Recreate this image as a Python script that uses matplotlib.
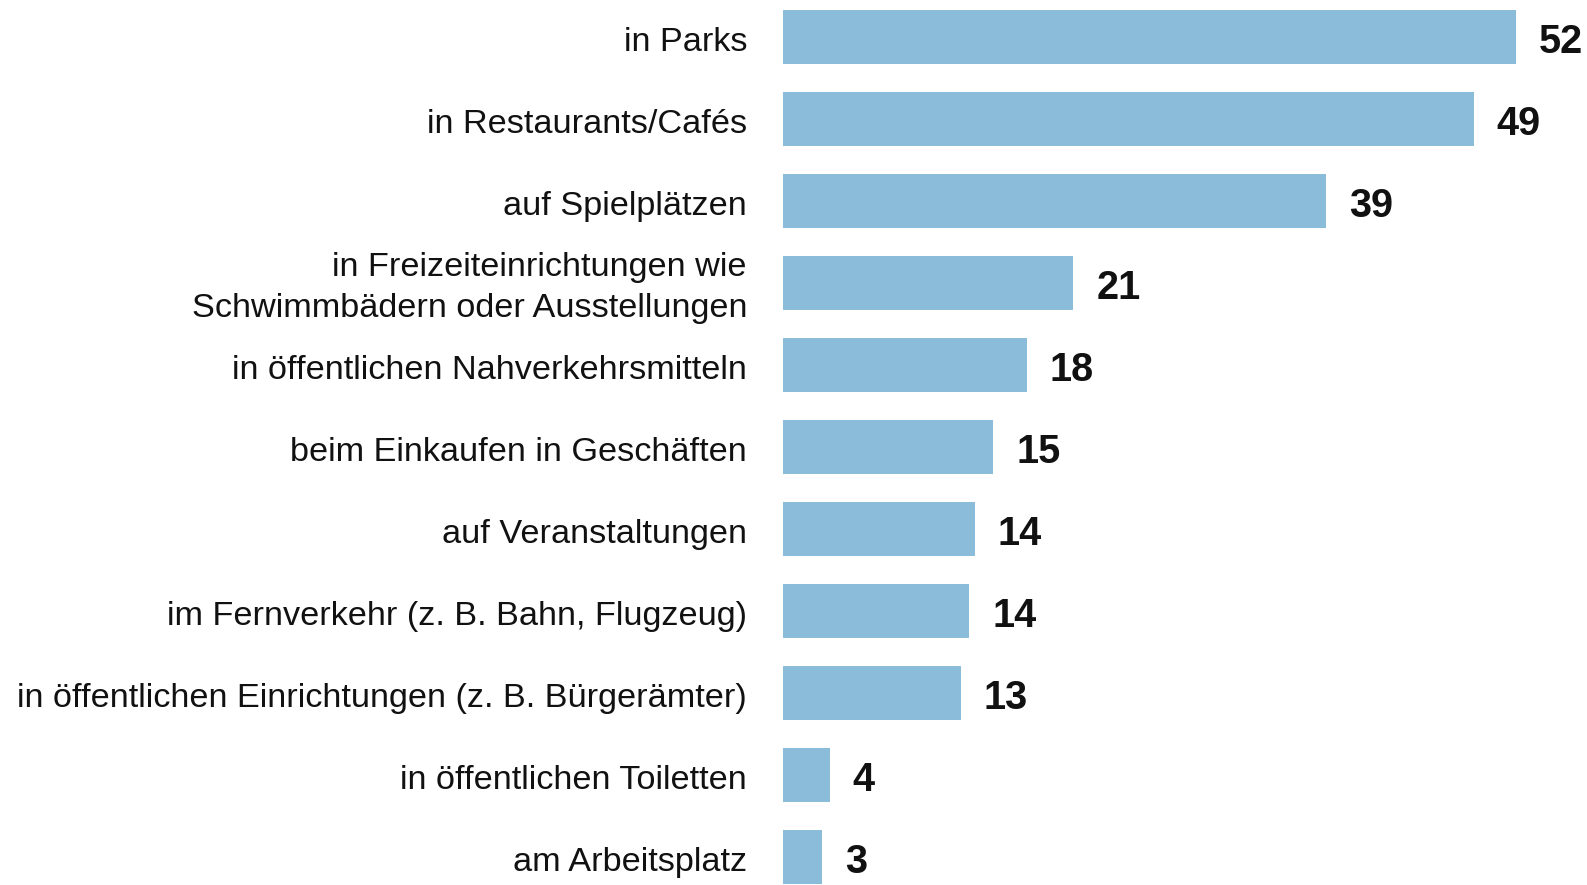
import matplotlib
matplotlib.use("Agg")
import matplotlib.pyplot as plt
from matplotlib.transforms import offset_copy

categories = [
    "in Parks",
    "in Restaurants/Cafés",
    "auf Spielplätzen",
    "in Freizeiteinrichtungen wie\nSchwimmbädern oder Ausstellungen",
    "in öffentlichen Nahverkehrsmitteln",
    "beim Einkaufen in Geschäften",
    "auf Veranstaltungen",
    "im Fernverkehr (z. B. Bahn, Flugzeug)",
    "in öffentlichen Einrichtungen (z. B. Bürgerämter)",
    "in öffentlichen Toiletten",
    "am Arbeitsplatz",
]
values = [52.0, 49.0, 38.5, 20.6, 17.3, 14.9, 13.6, 13.2, 12.6, 3.3, 2.8]
value_labels = ["52", "49", "39", "21", "18", "15", "14", "14", "13", "4", "3"]

W, H = 1587, 885
DPI = 100
fig = plt.figure(figsize=(W / DPI, H / DPI), dpi=DPI)
ax_left = 783 / W
ax = fig.add_axes([ax_left, 0, 1 - ax_left, 1])

pos = list(range(len(categories)))
ax.barh(pos, values, height=0.665, color="#8bbcda", edgecolor="none")

px_per_unit = (1516 - 783) / 52.0
ax.set_xlim(0, (W - 783) / px_per_unit)
pitch = 82.0
top_c = 37.0
ax.set_ylim((H - top_c) / pitch, -top_c / pitch)

def px(n):
    # pixels -> points (offset transforms use points)
    return n * 72.0 / DPI

for p, v, lab in zip(pos, values, value_labels):
    tr = offset_copy(ax.transData, fig=fig, x=px(23), y=-px(16), units="points")
    ax.text(v, p, lab, va="baseline", ha="left", transform=tr,
            fontsize=28.5, fontweight="bold", family="Liberation Sans", color="#111111")

for p, c in zip(pos, categories):
    lines = c.split("\n")
    n = len(lines)
    for k, line in enumerate(lines):
        dy = 13.7 + (k - (n - 1) / 2.0) * 40.5
        tr = offset_copy(ax.transData, fig=fig, x=-px(36), y=-px(dy), units="points")
        ax.text(0, p, line, va="baseline", ha="right", fontsize=24.7,
                family="Liberation Sans", color="#111111",
                transform=tr, clip_on=False)

ax.axis("off")
fig.savefig("out.png", dpi=DPI)
